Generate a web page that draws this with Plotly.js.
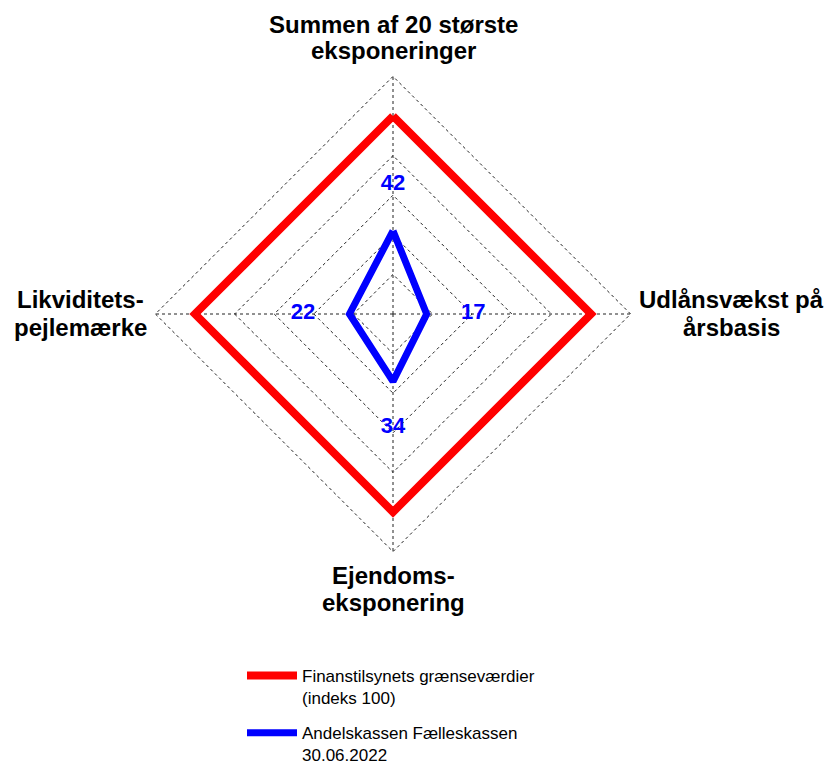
<!DOCTYPE html>
<html>
<head>
<meta charset="utf-8">
<script src="https://cdn.plot.ly/plotly-3.0.1.min.js"></script>
<style>html,body{margin:0;padding:0;background:#fff}#chart{width:826px;height:765px}</style>
</head>
<body>
<div id="chart"></div>
<script>
const categories = ["Summen af 20 største<br>eksponeringer", "Udlånsvækst på<br>årsbasis", "Ejendoms-<br>eksponering", "Likviditets-<br>pejlemærke"];
const limitValues = [100, 100, 100, 100];
const bankValues = [42, 17, 34, 22];
const seriesNames = ["Finanstilsynets grænseværdier<br>(indeks 100)", "Andelskassen Fælleskassen<br>30.06.2022"];

const W = 826, H = 765;
const FONT = "Liberation Sans, Arial, sans-serif";
const close = a => a.concat([a[0]]);
const labelOffset = 23.5;

// axis label placement (pixel centres of each text line), layout only
const labelPlacement = [
  {x: 393, ys: [24, 51]},
  {x: 731, ys: [300, 327]},
  {x: 393, ys: [575, 602]},
  {x: 80,  ys: [300, 327]}
];

const annotations = [];
categories.forEach((c, i) => {
  c.split("<br>").forEach((line, j) => {
    annotations.push({
      xref: "paper", yref: "paper",
      x: labelPlacement[i].x / W, y: 1 - labelPlacement[i].ys[j] / H,
      xanchor: "center", yanchor: "middle",
      text: line, showarrow: false,
      font: {family: FONT, size: 24, weight: "bold", color: "#000"}
    });
  });
});

const traces = [
  {
    type: "scatterpolar", mode: "lines",
    r: close(limitValues), theta: close(categories),
    name: seriesNames[0], legendgroup: "a",
    line: {color: "#ff0000", width: 8}
  },
  {
    type: "scatterpolar", mode: "lines",
    r: close(bankValues), theta: close(categories),
    name: seriesNames[1], legendgroup: "b",
    line: {color: "#0000ff", width: 7}
  },
  {
    type: "scatterpolar", mode: "text",
    r: bankValues.map(v => v + labelOffset), theta: categories,
    text: bankValues.map(String),
    textfont: {family: FONT, size: 22, color: "#0000ff", weight: "bold"},
    showlegend: false, hoverinfo: "skip"
  }
];

const R = 121 * 1.98;
const layout = {
  width: W, height: H,
  margin: {l: 0, r: 0, t: 0, b: 0, autoexpand: false},
  paper_bgcolor: "#ffffff",
  font: {family: FONT, color: "#000"},
  annotations: annotations,
  polar: {
    domain: {x: [(393 - R) / W, (393 + R) / W], y: [1 - (314 + R) / H, 1 - (314 - R) / H]},
    gridshape: "linear",
    bgcolor: "rgba(0,0,0,0)",
    radialaxis: {
      range: [0, 121], tickvals: [20, 40, 60, 80, 100, 120], showticklabels: false, ticks: "",
      showline: false, gridcolor: "#222", griddash: "dot", gridwidth: 1
    },
    angularaxis: {
      rotation: 90, direction: "clockwise", showticklabels: false,
      showline: false, gridcolor: "#222", griddash: "dot", ticks: ""
    }
  },
  showlegend: true,
  legend: {
    x: 242/W, xanchor: "left", y: 1 - 658/H, yanchor: "top",
    font: {size: 17, color: "#000"},
    tracegroupgap: 10, itemwidth: 50, valign: "top",
    bgcolor: "rgba(0,0,0,0)"
  }
};

Plotly.newPlot("chart", traces, layout, {displayModeBar: false, staticPlot: true});
</script>
</body>
</html>
